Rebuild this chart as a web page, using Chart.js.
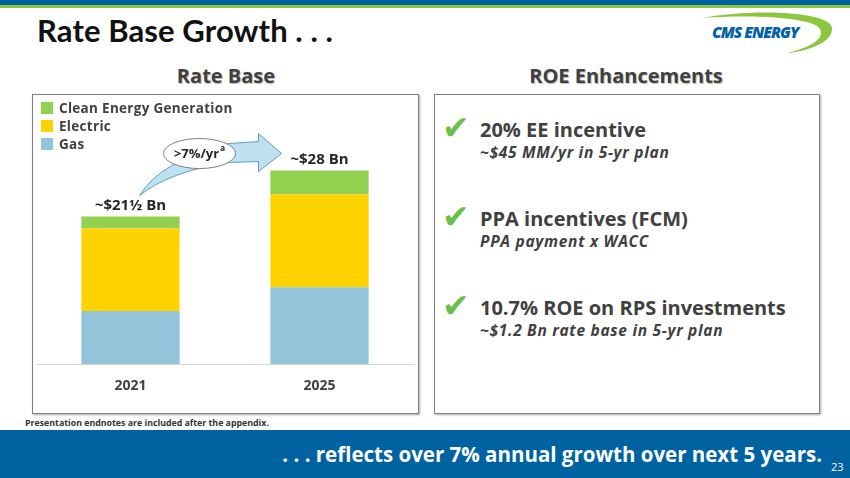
<!DOCTYPE html>
<html>
<head>
<meta charset="utf-8">
<script src="https://cdn.jsdelivr.net/npm/chart.js@4.4.1/dist/chart.umd.min.js"></script>
<style>
  html, body { margin: 0; padding: 0; }
  body { width: 850px; height: 478px; position: relative; overflow: hidden; background: #fff; font-family: "Open Sans", sans-serif; color: #404040; }
  .topblue { position: absolute; left: 0; top: 0; width: 850px; height: 5px; background: #0061a1; }
  .topgreen { position: absolute; left: 0; top: 5px; width: 850px; height: 3px; background: #8cc63f; }
  .title { position: absolute; left: 37px; top: 11px; font-family: Lato, sans-serif; font-size: 31px; font-weight: 700; color: #111; letter-spacing: 0.1px; }
  .logo { position: absolute; left: 696px; top: 10px; }
  .head { position: absolute; top: 62px; font-size: 20px; font-weight: 700; color: #404040; text-shadow: 1px 1px 1px #bbb; text-align: center; width: 260px; letter-spacing: 0px; }
  .box { position: absolute; top: 94px; height: 318px; border: 1px solid #7f7f7f; box-shadow: 1px 1px 2px #aaa; }
  #chartBox { left: 32px; width: 385px; }
  #roeBox { left: 434px; width: 384px; }
  #legend { position: absolute; left: 8px; top: 4px; font-size: 13.5px; font-weight: 700; color: #404040; letter-spacing: 0.3px; }
  #legend div { height: 18px; line-height: 18px; white-space: nowrap; }
  #legend span { display: inline-block; width: 12px; height: 12px; margin-right: 6px; vertical-align: -1px; }
  .item { position: absolute; left: 45px; white-space: nowrap; }
  .item .h { font-size: 20px; font-weight: 700; color: #404040; line-height: 25px; }
  .item .s { font-size: 15.5px; font-weight: 700; font-style: italic; color: #404040; line-height: 20px; letter-spacing: 0.7px; }
  .check { position: absolute; left: -38px; top: -9px; font-size: 33px; color: #6cc04a; font-family: "DejaVu Sans", sans-serif; }
  .note { position: absolute; left: 25px; top: 417px; font-size: 8.8px; font-weight: 700; color: #333; }
  .footer { position: absolute; left: 0; top: 430px; width: 850px; height: 48px; background: #0062a0; }
  .foottext { position: absolute; right: 28px; top: 10px; font-size: 20.5px; font-weight: 700; color: #fff; white-space: nowrap; }
  .page { position: absolute; left: 831px; top: 29px; font-size: 11px; color: #fff; }
</style>
</head>
<body>
<div class="topblue"></div>
<div class="topgreen"></div>
<div class="title">Rate Base Growth . . .</div>
<svg class="logo" width="140" height="46" viewBox="0 0 140 46">
  <path d="M6 8 C 60 -2, 135 2, 136 18 C 137 30, 118 40, 92 43 C 118 36, 128 28, 124 19 C 118 8, 60 4, 6 8 Z" fill="#8cc63f"/>
  <text x="16" y="28" font-family="Open Sans, sans-serif" font-size="15.5" font-weight="800" font-style="italic" fill="#0061a8" letter-spacing="-1">CMS ENERGY</text>
</svg>
<div class="head" style="left:96px">Rate Base</div>
<div class="head" style="left:496px">ROE Enhancements</div>

<div class="box" id="chartBox">
  <canvas id="rateChart"></canvas>
  <div id="legend"></div>
</div>

<div class="box" id="roeBox">
  <div class="item" style="top:22px"><span class="check">✔</span><div class="h">20% EE incentive</div><div class="s">~$45 MM/yr in 5-yr plan</div></div>
  <div class="item" style="top:111px"><span class="check">✔</span><div class="h">PPA incentives (FCM)</div><div class="s">PPA payment x WACC</div></div>
  <div class="item" style="top:200px"><span class="check">✔</span><div class="h">10.7% ROE on RPS investments</div><div class="s">~$1.2 Bn rate base in 5-yr plan</div></div>
</div>

<div class="note">Presentation endnotes are included after the appendix.</div>
<div class="footer">
  <div class="foottext">. . . reflects over 7% annual growth over next 5 years.</div>
  <div class="page">23</div>
</div>

<script>
// rate base, $ Bn
const years = ['2021', '2025'];
const gas = [7.75, 11.2];
const electric = [12.0, 13.5];
const cleanEnergy = [1.75, 3.5];
const totalLabels = ['~$21\u00BD Bn', '~$28 Bn'];

const seriesColors = { gas: '#92c4da', electric: '#ffd300', clean: '#92d050' };

// total labels above each stack
const totalsPlugin = {
  id: 'totals',
  afterDatasetsDraw(chart) {
    const ctx = chart.ctx;
    const top = chart.getDatasetMeta(chart.data.datasets.length - 1);
    ctx.save();
    ctx.font = 'bold 15px "Open Sans", sans-serif';
    ctx.fillStyle = '#262626';
    ctx.textAlign = 'center';
    ctx.textBaseline = 'bottom';
    top.data.forEach((bar, i) => {
      ctx.fillText(totalLabels[i], bar.x, bar.y - 3);
    });
    ctx.restore();
  }
};

// curved growth arrow with ">7%/yr" bubble
const growthArrow = {
  id: 'growthArrow',
  afterDatasetsDraw(chart) {
    const ctx = chart.ctx;
    const top = chart.getDatasetMeta(chart.data.datasets.length - 1).data;
    const tx = top[0].x + 9, ty = top[0].y - 21;   // tail
    const px = top[1].x - 38, py = top[1].y - 17;  // tip
    ctx.save();
    ctx.beginPath();
    ctx.moveTo(tx, ty);
    ctx.quadraticCurveTo(tx + 20, py + 8, px - 53, py - 10);
    ctx.lineTo(px - 23, py - 12);
    ctx.lineTo(px - 23, py - 20);
    ctx.lineTo(px, py);
    ctx.lineTo(px - 23, py + 18);
    ctx.lineTo(px - 23, py + 8);
    ctx.lineTo(px - 53, py + 9);
    ctx.quadraticCurveTo(tx + 30, py + 18, tx, ty);
    ctx.closePath();
    ctx.fillStyle = '#bde1ee';
    ctx.fill();
    ctx.strokeStyle = '#5d9fc4';
    ctx.lineWidth = 1;
    ctx.stroke();

    const ex = px - 82, ey = py;
    ctx.beginPath();
    ctx.ellipse(ex, ey, 36, 15, 0, 0, Math.PI * 2);
    ctx.fillStyle = '#fff';
    ctx.fill();
    ctx.strokeStyle = '#7f7f7f';
    ctx.stroke();

    ctx.fillStyle = '#262626';
    ctx.textBaseline = 'middle';
    ctx.font = 'bold 13px "Open Sans", sans-serif';
    const main = '>7%/yr';
    const w = ctx.measureText(main).width;
    ctx.textAlign = 'left';
    ctx.fillText(main, ex - w / 2 - 3, ey + 1);
    ctx.font = 'bold 8.5px "Open Sans", sans-serif';
    ctx.fillText('a', ex + w / 2 - 2, ey - 5);
    ctx.restore();
  }
};

window.onload = function () {
  const chart = new Chart(document.getElementById('rateChart'), {
    type: 'bar',
    data: {
      labels: years,
      datasets: [
        { label: 'Gas', data: gas, backgroundColor: seriesColors.gas },
        { label: 'Electric', data: electric, backgroundColor: seriesColors.electric },
        { label: 'Clean Energy Generation', data: cleanEnergy, backgroundColor: seriesColors.clean }
      ]
    },
    options: {
      responsive: true,
      maintainAspectRatio: false,
      animation: false,
      layout: { padding: { left: 3, right: 4, top: 0, bottom: 14 } },
      datasets: { bar: { barPercentage: 0.52, categoryPercentage: 1 } },
      plugins: { legend: { display: false }, tooltip: { enabled: false } },
      scales: {
        x: {
          stacked: true,
          grid: { display: false },
          border: { color: '#d9d9d9', width: 1 },
          ticks: { color: '#404040', padding: 5, font: { family: '"Open Sans", sans-serif', size: 14, weight: 'bold' } }
        },
        y: { stacked: true, display: false, min: 0, max: 39.2 }
      }
    },
    plugins: [totalsPlugin, growthArrow]
  });

  // legend, top series first
  const legend = document.getElementById('legend');
  chart.data.datasets.slice().reverse().forEach(ds => {
    const row = document.createElement('div');
    row.innerHTML = '<span style="background:' + ds.backgroundColor + '"></span>' + ds.label;
    legend.appendChild(row);
  });
};
</script>
</body>
</html>
